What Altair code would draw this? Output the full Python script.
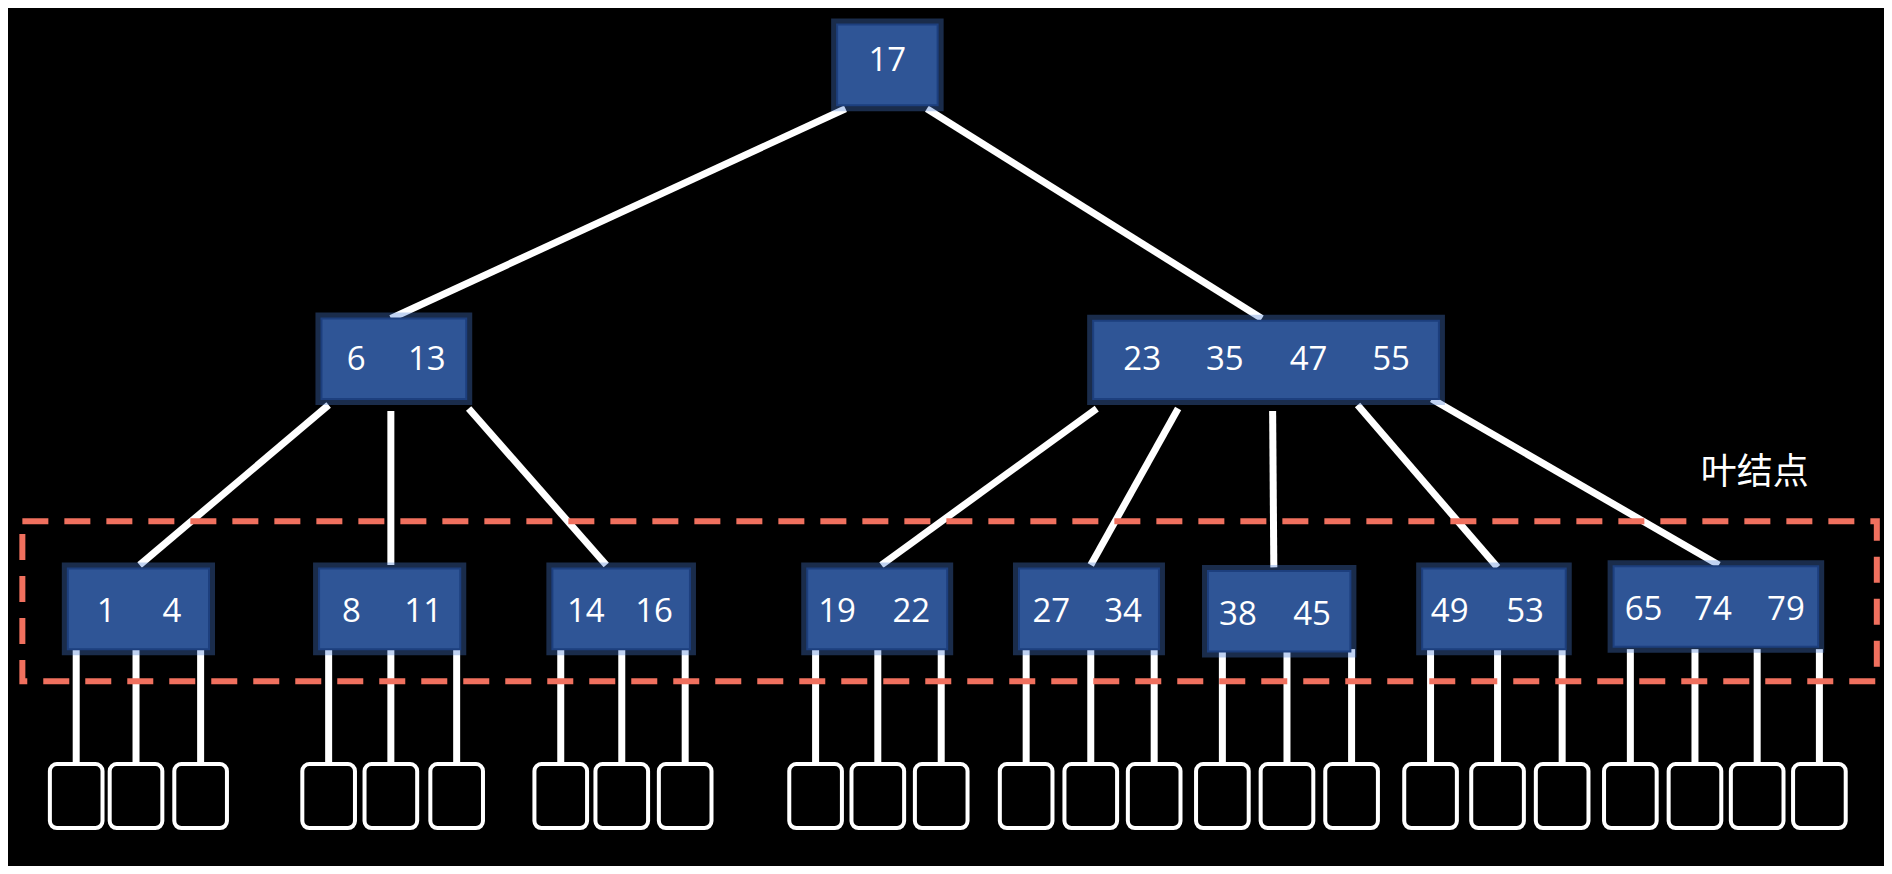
import altair as alt
import pandas as pd

# Diagram coordinate space (reference pixels, y grows downward)
W, H = 1568, 724

# internal / leaf nodes: box extents and keys
node_x0 = [693, 262, 907, 50, 260, 455, 668, 845, 1003, 1182, 1342]
node_x1 = [777, 383, 1196, 168, 378, 570, 785, 962, 1122, 1302, 1513]
node_y0 = [14, 262, 264, 473, 473, 473, 473, 473, 475, 473, 471]
node_y1 = [82, 330, 330, 541, 541, 541, 541, 541, 543, 541, 539]

key_text = ["17", "6", "13", "23", "35", "47", "55", "1", "4", "8", "11", "14", "16",
            "19", "22", "27", "34", "38", "45", "49", "53", "65", "74", "79"]
key_x = [735, 291, 350, 948, 1017, 1087, 1156, 82, 137, 287, 347, 483, 540,
         693, 755, 872, 932, 1028, 1090, 1205, 1268, 1367, 1425, 1486]
key_y = [45, 297, 297, 297, 297, 297, 297, 510, 510, 510, 510, 510, 510,
         510, 510, 510, 510, 512, 512, 510, 510, 508, 508, 508]

# tree edges
edge_x0 = [700, 768, 268, 320, 385, 910, 978, 1057, 1128, 1190]
edge_y0 = [85, 85, 335, 340, 338, 338, 338, 340, 335, 330]
edge_x1 = [320, 1048, 110, 320, 500, 730, 905, 1058, 1245, 1430]
edge_y1 = [262, 262, 470, 470, 470, 470, 470, 472, 472, 470]

# null child pointers (x centres)
child_x = [57, 107, 161, 268, 320, 375, 462, 513, 566, 675, 727, 780,
           851, 905, 958, 1015, 1069, 1123, 1189, 1245, 1299, 1356, 1410, 1462, 1514]

nodes = pd.DataFrame({"x0": node_x0, "x1": node_x1, "y0": node_y0, "y1": node_y1})
keys = pd.DataFrame({"t": key_text, "x": key_x, "y": key_y})
edges = pd.DataFrame({"x0": edge_x0, "y0": edge_y0, "x1": edge_x1, "y1": edge_y1})
kids = pd.DataFrame({"x": child_x})
kids["y0"] = 541
kids["y1"] = 640
kids["bx0"] = kids["x"] - 22
kids["bx1"] = kids["x"] + 22
kids["by0"] = 638
kids["by1"] = 692

xs = alt.Scale(domain=[0, W])
ys = alt.Scale(domain=[0, H], reverse=True)
X = lambda f: alt.X(f, type="quantitative", scale=xs, axis=None)
Y = lambda f: alt.Y(f, type="quantitative", scale=ys, axis=None)

edge_layer = alt.Chart(edges).mark_rule(color="white", strokeWidth=7).encode(
    x=X("x0"), y=Y("y0"), x2="x1", y2="y1")
ptr_layer = alt.Chart(kids).mark_rule(color="white", strokeWidth=7).encode(
    x=X("x"), y=Y("y0"), y2="y1")
box_layer = alt.Chart(kids).mark_rect(
    fill="black", stroke="white", strokeWidth=4, cornerRadius=7).encode(
    x=X("bx0"), x2="bx1", y=Y("by0"), y2="by1")
glow_layer = alt.Chart(nodes).mark_rect(
    fill="#2f5596", stroke="#4a7fd6", strokeWidth=12, strokeOpacity=0.35).encode(
    x=X("x0"), x2="x1", y=Y("y0"), y2="y1")
node_layer = alt.Chart(nodes).mark_rect(
    fill="#2f5596", stroke="#1d3f7e", strokeWidth=2).encode(
    x=X("x0"), x2="x1", y=Y("y0"), y2="y1")
key_layer = alt.Chart(keys).mark_text(
    color="white", fontSize=33, font="Open Sans").encode(
    x=X("x"), y=Y("y"), text="t:N")
frame = alt.Chart(pd.DataFrame({"x0": [12], "x1": [1562], "y0": [433], "y1": [568]})).mark_rect(
    fill="black", fillOpacity=0, stroke="#f0705e", strokeWidth=6, strokeDash=[26, 16]).encode(
    x=X("x0"), x2="x1", y=Y("y0"), y2="y1")
label = alt.Chart(pd.DataFrame({"t": ["叶结点"], "x": [1460], "y": [392]})).mark_text(
    color="white", fontSize=36, font="Noto Sans CJK SC").encode(
    x=X("x"), y=Y("y"), text="t:N")

chart = alt.layer(edge_layer, ptr_layer, box_layer, glow_layer, node_layer,
                  key_layer, frame, label).properties(
    width=1876, height=858, background="black", padding=0,
    autosize=alt.AutoSizeParams(type="fit", contains="padding"),
).configure_view(stroke=None)

chart.save("out.html", embed_options={"renderer": "svg", "actions": False})
